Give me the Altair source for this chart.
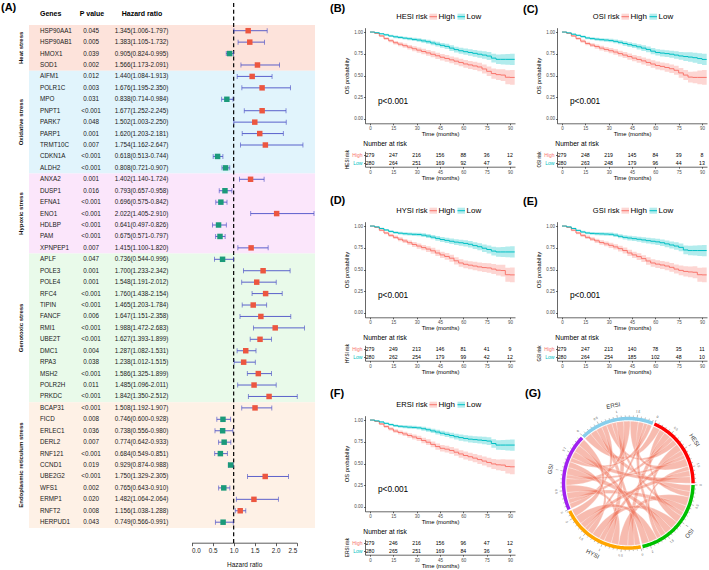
import math
import altair as alt
import pandas as pd

FONT = "Liberation Sans"
W, H = 709, 570

# ---------------- (A) forest plot data ----------------
GROUP_NAMES = ["Heat stress", "Oxidative stress", "Hypoxic stress",
               "Genotoxic stress", "Endoplasmic reticulum stress"]
GROUP_SIZES = [4, 9, 7, 13, 11]
GROUP_FILLS = ["#FDE3DB", "#E1F4FC", "#FBE6FB", "#E9FAEA", "#FEF1E6"]

GENES = ["HSP90AA1", "HSP90AB1", "HMOX1", "SOD1",
         "AIFM1", "POLR1C", "MPO", "PNPT1", "PARK7", "PARP1", "TRMT10C", "CDKN1A", "ALDH2",
         "ANXA2", "DUSP1", "EFNA1", "ENO1", "HDLBP", "PAM", "XPNPEP1",
         "APLF", "POLE3", "POLE4", "RFC4", "TIPIN", "FANCF", "RMI1", "UBE2T", "DMC1", "RPA3",
         "MSH2", "POLR2H", "PRKDC",
         "BCAP31", "FICD", "ERLEC1", "DERL2", "RNF121", "CCND1", "UBE2G2", "WFS1", "ERMP1",
         "RNFT2", "HERPUD1"]
P_VALUES = ["0.045", "0.005", "0.039", "0.002",
            "0.012", "0.003", "0.031", "<0.001", "0.048", "0.001", "0.007", "<0.001", "<0.001",
            "0.001", "0.016", "<0.001", "<0.001", "<0.001", "<0.001", "0.007",
            "0.047", "0.001", "0.001", "<0.001", "<0.001", "0.006", "<0.001", "<0.001", "0.004",
            "0.038", "<0.001", "0.011", "<0.001",
            "<0.001", "0.008", "0.036", "0.007", "<0.001", "0.019", "<0.001", "0.002", "0.020",
            "0.008", "0.043"]
HR = [1.345, 1.383, 0.905, 1.566,
      1.440, 1.676, 0.838, 1.677, 1.502, 1.620, 1.754, 0.618, 0.808,
      1.402, 0.793, 0.696, 2.022, 0.641, 0.675, 1.415,
      0.736, 1.700, 1.548, 1.760, 1.465, 1.647, 1.988, 1.627, 1.287, 1.238, 1.586, 1.485, 1.842,
      1.508, 0.746, 0.738, 0.774, 0.684, 0.929, 1.750, 0.765, 1.482, 1.156, 0.749]
HR_LOW = [1.006, 1.105, 0.824, 1.173,
          1.084, 1.195, 0.714, 1.252, 1.003, 1.203, 1.162, 0.513, 0.721,
          1.140, 0.657, 0.575, 1.405, 0.497, 0.571, 1.100,
          0.544, 1.233, 1.191, 1.438, 1.203, 1.151, 1.472, 1.393, 1.082, 1.012, 1.325, 1.096, 1.350,
          1.192, 0.600, 0.556, 0.642, 0.549, 0.874, 1.329, 0.643, 1.064, 1.038, 0.566]
HR_HIGH = [1.797, 1.732, 0.995, 2.091,
           1.913, 2.350, 0.984, 2.245, 2.250, 2.181, 2.647, 0.744, 0.907,
           1.724, 0.958, 0.842, 2.910, 0.826, 0.797, 1.820,
           0.996, 2.342, 2.012, 2.154, 1.784, 2.358, 2.683, 1.899, 1.531, 1.515, 1.899, 2.011, 2.512,
           1.907, 0.928, 0.980, 0.933, 0.851, 0.988, 2.305, 0.910, 2.064, 1.288, 0.991]
HR_TICKS = [0.0, 0.5, 1.0, 1.5, 2.0, 2.5]

# ---------------- (B)-(F) Kaplan-Meier data ----------------
KM_TIME = [0, 3, 6, 9, 12, 15, 18, 21, 24, 27, 30, 33, 36, 39, 42, 45,
           48, 51, 54, 57, 60, 63, 66, 69, 72, 75, 78, 81, 84, 87, 90, 93]
HW_HIGH = [0.000, 0.006, 0.011, 0.015, 0.018, 0.020, 0.022, 0.024, 0.026, 0.028, 0.030, 0.031,
           0.033, 0.034, 0.036, 0.037, 0.039, 0.040, 0.042, 0.043, 0.045, 0.046, 0.048, 0.050,
           0.052, 0.055, 0.058, 0.062, 0.068, 0.080, 0.085, 0.088]
HW_LOW = [0.000, 0.004, 0.008, 0.011, 0.013, 0.015, 0.016, 0.017, 0.018, 0.019, 0.020, 0.022,
          0.023, 0.025, 0.027, 0.028, 0.030, 0.032, 0.033, 0.035, 0.036, 0.038, 0.039, 0.041,
          0.043, 0.045, 0.050, 0.055, 0.058, 0.062, 0.065, 0.068]

HESI_HIGH = [1.000, 0.985, 0.955, 0.925, 0.900, 0.877, 0.860, 0.843, 0.826, 0.808, 0.792, 0.776,
             0.760, 0.744, 0.727, 0.710, 0.696, 0.680, 0.665, 0.650, 0.633, 0.622, 0.610, 0.598,
             0.575, 0.548, 0.522, 0.510, 0.505, 0.480, 0.478, 0.478]
HESI_LOW = [1.000, 0.992, 0.980, 0.968, 0.955, 0.945, 0.938, 0.930, 0.923, 0.915, 0.908, 0.898,
            0.888, 0.874, 0.860, 0.847, 0.835, 0.815, 0.798, 0.785, 0.774, 0.765, 0.755, 0.745,
            0.735, 0.724, 0.700, 0.686, 0.686, 0.686, 0.686, 0.686]
OSI_HIGH = [1.000, 0.985, 0.955, 0.925, 0.895, 0.868, 0.850, 0.833, 0.815, 0.800, 0.785, 0.770,
            0.752, 0.735, 0.718, 0.700, 0.685, 0.668, 0.650, 0.632, 0.615, 0.605, 0.592, 0.578,
            0.560, 0.530, 0.505, 0.482, 0.478, 0.478, 0.478, 0.478]
OSI_LOW = [1.000, 0.990, 0.975, 0.962, 0.948, 0.932, 0.925, 0.918, 0.912, 0.908, 0.902, 0.893,
           0.882, 0.868, 0.855, 0.843, 0.830, 0.815, 0.800, 0.780, 0.765, 0.758, 0.752, 0.745,
           0.735, 0.725, 0.718, 0.712, 0.705, 0.695, 0.685, 0.685]
HYSI_HIGH = [1.000, 0.985, 0.952, 0.920, 0.893, 0.870, 0.848, 0.828, 0.808, 0.788, 0.770, 0.752,
             0.735, 0.715, 0.690, 0.668, 0.650, 0.630, 0.600, 0.575, 0.560, 0.550, 0.540, 0.530,
             0.522, 0.518, 0.505, 0.492, 0.488, 0.440, 0.438, 0.438]
HYSI_LOW = [1.000, 0.990, 0.972, 0.955, 0.938, 0.925, 0.918, 0.912, 0.908, 0.905, 0.903, 0.895,
            0.885, 0.872, 0.858, 0.845, 0.835, 0.825, 0.815, 0.808, 0.800, 0.790, 0.775, 0.762,
            0.745, 0.730, 0.712, 0.702, 0.702, 0.702, 0.702, 0.702]
GSI_HIGH = [1.000, 0.985, 0.952, 0.920, 0.893, 0.870, 0.850, 0.830, 0.810, 0.795, 0.778, 0.760,
            0.740, 0.718, 0.690, 0.668, 0.648, 0.625, 0.598, 0.575, 0.562, 0.552, 0.540, 0.525,
            0.505, 0.490, 0.478, 0.472, 0.468, 0.440, 0.438, 0.438]
GSI_LOW = [1.000, 0.990, 0.972, 0.950, 0.932, 0.920, 0.915, 0.912, 0.910, 0.908, 0.905, 0.895,
           0.882, 0.870, 0.862, 0.855, 0.848, 0.840, 0.832, 0.825, 0.818, 0.808, 0.795, 0.782,
           0.770, 0.755, 0.725, 0.718, 0.718, 0.718, 0.718, 0.718]
ERSI_HIGH = [1.000, 0.985, 0.955, 0.925, 0.898, 0.873, 0.857, 0.840, 0.822, 0.805, 0.788, 0.765,
             0.745, 0.720, 0.695, 0.675, 0.665, 0.650, 0.630, 0.610, 0.592, 0.578, 0.562, 0.545,
             0.528, 0.512, 0.495, 0.485, 0.482, 0.465, 0.462, 0.462]
ERSI_LOW = [1.000, 0.990, 0.978, 0.962, 0.948, 0.935, 0.928, 0.922, 0.918, 0.915, 0.910, 0.900,
            0.888, 0.875, 0.862, 0.848, 0.835, 0.822, 0.808, 0.798, 0.788, 0.780, 0.775, 0.770,
            0.765, 0.758, 0.730, 0.712, 0.712, 0.712, 0.712, 0.712]

RISK_TIME = [0, 15, 30, 45, 60, 75, 90]
HESI_RISK_HIGH = [279, 247, 216, 156, 88, 36, 12]
HESI_RISK_LOW = [280, 264, 251, 169, 92, 47, 9]
OSI_RISK_HIGH = [279, 248, 219, 145, 84, 39, 8]
OSI_RISK_LOW = [280, 263, 248, 179, 96, 44, 13]
HYSI_RISK_HIGH = [279, 249, 213, 146, 81, 41, 9]
HYSI_RISK_LOW = [280, 262, 254, 179, 99, 42, 12]
GSI_RISK_HIGH = [279, 247, 213, 140, 78, 35, 11]
GSI_RISK_LOW = [280, 264, 254, 185, 102, 48, 10]
ERSI_RISK_HIGH = [279, 246, 216, 156, 96, 47, 12]
ERSI_RISK_LOW = [280, 265, 251, 169, 84, 36, 9]
KM_Y_TICKS = [0.0, 0.25, 0.5, 0.75, 1.0]

# ---------------- (G) chord diagram data ----------------
CHORD_SEGMENTS = ["ERSI", "HESI", "OSI", "HYSI", "GSI"]
CHORD_COLORS = ["#87CEEB", "#FF0000", "#00C000", "#FFA500", "#A020F0"]
CHORD_LINKS = [
    ("ERSI", "HESI", 0.20), ("ERSI", "OSI", 0.18), ("ERSI", "HYSI", 0.16), ("ERSI", "GSI", 0.14),
    ("HESI", "OSI", 0.15), ("HESI", "HYSI", 0.18), ("HESI", "GSI", 0.12), ("OSI", "HYSI", 0.25),
    ("OSI", "GSI", 0.18), ("HYSI", "GSI", 0.20),
    ("ERSI", "HESI", 0.15), ("ERSI", "OSI", 0.12), ("ERSI", "HYSI", 0.20), ("ERSI", "GSI", 0.18),
    ("HESI", "OSI", 0.20), ("HESI", "HYSI", 0.14), ("HESI", "GSI", 0.10), ("OSI", "HYSI", 0.22),
    ("OSI", "GSI", 0.20), ("HYSI", "GSI", 0.16),
    ("ERSI", "HESI", 0.22), ("ERSI", "OSI", 0.15), ("ERSI", "HYSI", 0.10), ("ERSI", "GSI", 0.12),
    ("HESI", "OSI", 0.12), ("HESI", "HYSI", 0.16), ("HESI", "GSI", 0.18), ("OSI", "HYSI", 0.23),
    ("OSI", "GSI", 0.20), ("HYSI", "GSI", 0.20),
]

# ======================================================================
DUMMY = pd.DataFrame({"d": [0]})
layers = []


def txt(text, x, y, size, weight="normal", align="left", angle=0, color="black", baseline="middle"):
    kw = dict(text=text, font=FONT, fontSize=size, fontWeight=weight, align=align,
              baseline=baseline, color=color)
    if angle:
        kw["angle"] = angle
    return alt.Chart(DUMMY).mark_text(**kw).encode(x=alt.value(x), y=alt.value(y))


# ---------------- (A) forest ----------------
n = len(GENES)
ROW0, ROW_STEP = 30.7, 11.43
ROWS = alt.Scale(domain=[0, n - 1], range=[ROW0, ROW0 + (n - 1) * ROW_STEP], nice=False, zero=False)
FX = alt.Scale(domain=[0, 2.5], range=[191.6, 296.75], nice=False, zero=False)
RED_SQ, GREEN_SQ, BLUE_BAR = "#EC5640", "#1B9A7A", "#4B50C6"

forest = pd.DataFrame({
    "row": list(range(n)), "gene": GENES, "p": P_VALUES, "hr": HR, "lo": HR_LOW, "hi": HR_HIGH,
    "label": [f"{h:.3f}({l:.3f}-{u:.3f})" for h, l, u in zip(HR, HR_LOW, HR_HIGH)],
    "dir": ["up" if h > 1 else "down" for h in HR],
})
band_rows = []
start = 0
for name, size, fill in zip(GROUP_NAMES, GROUP_SIZES, GROUP_FILLS):
    band_rows.append({"name": name, "y0": start - 0.5, "y1": start + size - 0.5,
                      "mid": start + (size - 1) / 2, "fill": fill})
    start += size
bands = pd.DataFrame(band_rows)

layers.append(alt.Chart(bands).mark_rect().encode(
    x=alt.value(29), x2=alt.value(315),
    y=alt.Y("y0:Q", scale=ROWS, axis=None), y2="y1:Q",
    color=alt.Color("fill:N", scale=None)))
layers.append(alt.Chart(bands).mark_text(font=FONT, fontSize=6, fontWeight="bold", angle=270,
                                          align="center", baseline="middle", color="#111").encode(
    x=alt.value(20.5), y=alt.Y("mid:Q", scale=ROWS, axis=None), text="name:N"))

for field, x, align in (("gene", 40, "left"), ("p", 91, "center"), ("label", 141.5, "center")):
    layers.append(alt.Chart(forest).mark_text(font=FONT, fontSize=6.3, align=align,
                                               baseline="middle", color="#1a1a1a").encode(
        x=alt.value(x), y=alt.Y("row:Q", scale=ROWS, axis=None), text=f"{field}:N"))

layers.append(txt("Genes", 40, 14.3, 7, "bold"))
layers.append(txt("P value", 92, 14.3, 7, "bold", "center"))
layers.append(txt("Hazard ratio", 142, 14.3, 7, "bold", "center"))
layers.append(txt("(A)", 1, 8, 11, "bold"))

layers.append(alt.Chart(pd.DataFrame({"v": [1.0]})).mark_rule(
    strokeDash=[4, 2.7], color="black", strokeWidth=1.2).encode(
    x=alt.X("v:Q", scale=FX, axis=None), y=alt.value(3), y2=alt.value(545)))
layers.append(alt.Chart(forest).mark_rule(color=BLUE_BAR, strokeWidth=0.9).encode(
    x=alt.X("lo:Q", scale=FX, axis=None), x2="hi:Q", y=alt.Y("row:Q", scale=ROWS, axis=None)))
for f in ("lo", "hi"):
    layers.append(alt.Chart(forest).mark_tick(orient="vertical", size=5, thickness=0.9,
                                               color=BLUE_BAR).encode(
        x=alt.X(f"{f}:Q", scale=FX, axis=None), y=alt.Y("row:Q", scale=ROWS, axis=None)))
layers.append(alt.Chart(forest).mark_square(size=30, opacity=1).encode(
    x=alt.X("hr:Q", scale=FX, axis=alt.Axis(
        orient="bottom", offset=542.7 - H, values=HR_TICKS, format=".1f", title="Hazard ratio",
        domainColor="#333", domainWidth=0.8, tickColor="#333", tickWidth=0.8, tickSize=3,
        labelFont=FONT, labelFontSize=6.3, labelColor="#222", labelPadding=2,
        titleFont=FONT, titleFontSize=6.5, titleFontWeight="normal", titleColor="#111",
        titlePadding=7, grid=False)),
    y=alt.Y("row:Q", scale=ROWS, axis=None),
    color=alt.Color("dir:N", scale=alt.Scale(domain=["up", "down"], range=[RED_SQ, GREEN_SQ]),
                    legend=None)))

# ---------------- (B)-(F) KM panels ----------------
KM_RED, KM_TEAL = "#F8766D", "#00BFC4"
KM_COLOR = alt.Scale(domain=["High", "Low"], range=[KM_RED, KM_TEAL])


def km_axis_style():
    return dict(domainColor="black", domainWidth=0.6, tickColor="black", tickWidth=0.6,
                tickSize=1.5, labelFont=FONT, labelColor="#4D4D4D", labelPadding=1,
                titleFont=FONT, titleFontWeight="normal", titleColor="black", grid=False)


def km_panel(name, dx, dy, s_high, s_low, r_high, r_low, letter, lx, ly):
    assert len(s_high) == len(KM_TIME) and len(s_low) == len(KM_TIME)
    out = []
    xs = alt.Scale(domain=[-3.21, 93.21], range=[365 + dx, 515 + dx], nice=False, zero=False)
    ys = alt.Scale(domain=[-0.05, 1.05], range=[123.3 + dy, 27.7 + dy], nice=False, zero=False)
    rows = []
    for g, s_list, hw in (("High", s_high, HW_HIGH), ("Low", s_low, HW_LOW)):
        for t, s, h in zip(KM_TIME, s_list, hw):
            rows.append({"t": t, "s": s, "lo": max(s - h, 0.0), "hi": min(s + h, 1.0), "group": g})
    df = pd.DataFrame(rows)
    out.append(alt.Chart(df).mark_area(interpolate="step-after", opacity=0.3).encode(
        x=alt.X("t:Q", scale=xs, axis=None), y=alt.Y("lo:Q", scale=ys, axis=None), y2="hi:Q",
        color=alt.Color("group:N", scale=KM_COLOR, legend=None)))
    out.append(alt.Chart(df).mark_line(interpolate="step-after", strokeWidth=1).encode(
        x=alt.X("t:Q", scale=xs, axis=alt.Axis(
            orient="bottom", offset=123.3 + dy - H, values=RISK_TIME, title="Time (months)",
            labelFontSize=4.5, titleFontSize=5.9, titlePadding=0.5, **km_axis_style())),
        y=alt.Y("s:Q", scale=ys, axis=alt.Axis(
            orient="left", offset=-(365 + dx), values=KM_Y_TICKS, format=".2f",
            title="OS probability", labelFontSize=4.5, titleFontSize=5.8, titlePadding=4,
            **km_axis_style())),
        color=alt.Color("group:N", scale=KM_COLOR, legend=None)))
    out.append(txt("p<0.001", 378 + dx, 101.7 + dy, 8.3))

    # legend
    out.append(txt(f"{name} risk", 427.5 + dx, 16.7 + dy, 7.5, align="right"))
    for x0, col, lab in ((429.5, KM_RED, "High"), (457.5, KM_TEAL, "Low")):
        out.append(alt.Chart(DUMMY).mark_rect(color=col, opacity=0.3).encode(
            x=alt.value(x0 + dx), x2=alt.value(x0 + 7.5 + dx),
            y=alt.value(13.7 + dy), y2=alt.value(19.7 + dy)))
        out.append(alt.Chart(DUMMY).mark_rule(color=col, strokeWidth=1).encode(
            x=alt.value(x0 + dx), x2=alt.value(x0 + 7.5 + dx), y=alt.value(16.7 + dy)))
        out.append(txt(lab, x0 + 9 + dx, 16.7 + dy, 8))

    # risk table
    rs = alt.Scale(domain=[-0.5, 1.5], range=[151.3 + dy, 166.7 + dy], nice=False, zero=False)
    rdf = pd.DataFrame([{"t": t, "row": 0, "n": v} for t, v in zip(RISK_TIME, r_high)] +
                       [{"t": t, "row": 1, "n": v} for t, v in zip(RISK_TIME, r_low)])
    out.append(alt.Chart(rdf).mark_text(font=FONT, fontSize=5.2, color="black").encode(
        x=alt.X("t:Q", scale=xs, axis=alt.Axis(
            orient="bottom", offset=166.7 + dy - H, values=RISK_TIME, title="Time (months)",
            labelFontSize=4.5, titleFontSize=5.9, titlePadding=1, **km_axis_style())),
        y=alt.Y("row:Q", scale=rs, axis=alt.Axis(
            orient="left", offset=-(365 + dx), values=[0, 1], labels=False,
            title=f"{name} risk", titleFontSize=4.5, titlePadding=14, **km_axis_style())),
        text="n:Q"))
    gdf = pd.DataFrame({"row": [0, 1], "group": ["High", "Low"]})
    out.append(alt.Chart(gdf).mark_text(font=FONT, fontSize=5, align="right").encode(
        x=alt.value(362.5 + dx), y=alt.Y("row:Q", scale=rs, axis=None), text="group:N",
        color=alt.Color("group:N", scale=KM_COLOR, legend=None)))
    out.append(txt("Number at risk", 363.3 + dx, 144.3 + dy, 6.7))
    out.append(txt(letter, lx, ly, 11, "bold"))
    return out


layers += km_panel("HESI", 0, 0, HESI_HIGH, HESI_LOW, HESI_RISK_HIGH, HESI_RISK_LOW, "(B)", 330, 9)
layers += km_panel("OSI", 192, 0, OSI_HIGH, OSI_LOW, OSI_RISK_HIGH, OSI_RISK_LOW, "(C)", 523, 10)
layers += km_panel("HYSI", 0, 194, HYSI_HIGH, HYSI_LOW, HYSI_RISK_HIGH, HYSI_RISK_LOW, "(D)", 330, 201)
layers += km_panel("GSI", 192, 194, GSI_HIGH, GSI_LOW, GSI_RISK_HIGH, GSI_RISK_LOW, "(E)", 523, 202)
layers += km_panel("ERSI", 0, 388, ERSI_HIGH, ERSI_LOW, ERSI_RISK_HIGH, ERSI_RISK_LOW, "(F)", 330, 394)

# ---------------- (G) chord ----------------
CCX, CCY, CR = 628.3, 483.3, 66.5
seg_size = {s: 0.0 for s in CHORD_SEGMENTS}
for a, b, v in CHORD_LINKS:
    seg_size[a] += v
    seg_size[b] += v
GAP, START = 1.5, -44.0
K = (360 - GAP * len(CHORD_SEGMENTS)) / sum(seg_size.values())
seg_start, seg_end = {}, {}
ang = START
for s in CHORD_SEGMENTS:
    seg_start[s] = ang
    seg_end[s] = ang + seg_size[s] * K
    ang = seg_end[s] + GAP
cursor = dict(seg_start)


def P(theta, r):
    t = math.radians(theta)
    return [r * math.sin(t), r * math.cos(t)]


def arc(a0, a1, r):
    m = max(2, int(abs(a1 - a0) / 1.0) + 1)
    return [P(a0 + (a1 - a0) * i / m, r) for i in range(m + 1)]


def bez(p0, p2, m=28):
    pts = []
    for i in range(m + 1):
        u = i / m
        pts.append([(1 - u) ** 2 * p0[0] + u * u * p2[0], (1 - u) ** 2 * p0[1] + u * u * p2[1]])
    return pts


RIB_R = 0.935
ribbon_feats = []
for a, b, v in CHORD_LINKS:
    a0 = cursor[a]; a1 = a0 + v * K; cursor[a] = a1
    b0 = cursor[b]; b1 = b0 + v * K; cursor[b] = b1
    ring = (arc(a0, a1, RIB_R) + bez(P(a1, RIB_R), P(b0, RIB_R))[1:-1] +
            arc(b0, b1, RIB_R) + bez(P(b1, RIB_R), P(a0, RIB_R))[1:-1])
    ring.append(ring[0])
    ribbon_feats.append({"type": "Feature", "properties": {"s": a},
                         "geometry": {"type": "Polygon", "coordinates": [ring]}})

seg_feats, tick_feats, tick_lab, seg_lab = [], [], [], []
for s, col in zip(CHORD_SEGMENTS, CHORD_COLORS):
    s0, s1 = seg_start[s], seg_end[s]
    ring = arc(s0, s1, 1.0) + arc(s1, s0, 0.948)
    ring.append(ring[0])
    seg_feats.append({"type": "Feature", "properties": {"color": col},
                      "geometry": {"type": "Polygon", "coordinates": [ring]}})
    j = 0
    while j * 0.1 <= seg_size[s] + 1e-9:
        th = s0 + j * 0.1 * K
        major = (j % 5 == 0)
        tick_feats.append({"type": "Feature", "properties": {},
                           "geometry": {"type": "LineString",
                                        "coordinates": [P(th, 1.0), P(th, 1.04 if major else 1.022)]}})
        if major:
            x, y = P(th, 1.09)
            rot = th if -90 < th <= 90 else th - 180
            tick_lab.append({"x": x, "y": y, "rot": rot % 360, "lab": f"{j * 0.1:g}"})
        j += 1
    mid = (s0 + s1) / 2
    x, y = P(mid, 1.19)
    mid_n = ((mid + 180) % 360) - 180
    rot = mid_n if -90 < mid_n <= 90 else mid_n - 180
    seg_lab.append({"x": x, "y": y, "rot": rot % 360, "lab": s})

PROJ = dict(type="identity", scale=CR, translate=[CCX, CCY], reflectY=True)
layers.append(alt.Chart(alt.Data(values=ribbon_feats)).mark_geoshape(
    fill="#F07860", fillOpacity=0.5, stroke="white", strokeWidth=0.3).project(**PROJ))
layers.append(alt.Chart(alt.Data(values=seg_feats)).mark_geoshape(strokeWidth=0).encode(
    color=alt.Color("properties.color:N", scale=None)).project(**PROJ))
layers.append(alt.Chart(alt.Data(values=tick_feats)).mark_geoshape(
    filled=False, stroke="#444", strokeWidth=0.35).project(**PROJ))

CX = alt.Scale(domain=[-1, 1], range=[CCX - CR, CCX + CR], nice=False, zero=False)
CY = alt.Scale(domain=[-1, 1], range=[CCY + CR, CCY - CR], nice=False, zero=False)
layers.append(alt.Chart(pd.DataFrame(tick_lab)).mark_text(
    font=FONT, fontSize=3.2, color="#555", align="center", baseline="middle").encode(
    x=alt.X("x:Q", scale=CX, axis=None), y=alt.Y("y:Q", scale=CY, axis=None),
    angle=alt.Angle("rot:Q", scale=None), text="lab:N"))
layers.append(alt.Chart(pd.DataFrame(seg_lab)).mark_text(
    font=FONT, fontSize=6, color="#333", align="center", baseline="middle").encode(
    x=alt.X("x:Q", scale=CX, axis=None), y=alt.Y("y:Q", scale=CY, axis=None),
    angle=alt.Angle("rot:Q", scale=None), text="lab:N"))
layers.append(txt("(G)", 525, 394, 11, "bold"))

chart = alt.layer(*layers).resolve_scale(
    x="independent", y="independent", color="independent"
).properties(
    width=W, height=H, padding=0, background="white",
    autosize=alt.AutoSizeParams(type="none"),
).configure_view(stroke=None)

chart.save("out.html", embed_options={"renderer": "svg", "actions": False})
